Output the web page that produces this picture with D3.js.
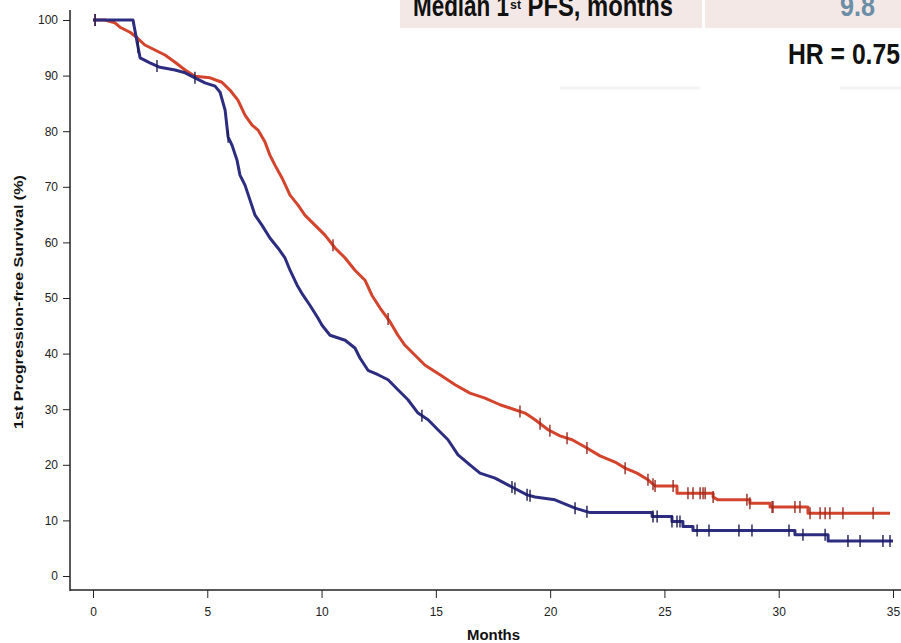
<!DOCTYPE html>
<html>
<head>
<meta charset="utf-8">
<script src="https://cdn.jsdelivr.net/npm/d3@7"></script>
<style>
  body { margin: 0; background: #fff; }
  svg { display: block; }
  .tick text { font-family: "Liberation Sans Narrow", "Arial Narrow", "Liberation Sans", sans-serif; font-size: 12px; fill: #222; }
  .tick line { stroke: #222; }
</style>
</head>
<body>
<svg width="901" height="643"></svg>
<script>
// survival curves, months vs percent
const blueTime = [0, 1.75, 1.93, 2.06, 2.49, 2.93, 3.59, 4.03, 4.46, 4.9, 5.34, 5.56, 5.78, 5.91, 6.08, 6.3, 6.43, 6.65, 6.87, 7.09, 7.39, 7.74, 8.09, 8.4, 8.62, 8.93, 9.19, 9.49, 9.84, 10.02, 10.37, 11.03, 11.46, 11.68, 12.03, 12.47, 12.91, 13.34, 13.78, 14.22, 14.66, 15.09, 15.53, 15.97, 16.49, 16.93, 17.59, 18.33, 18.99, 19.34, 20.21, 21.09, 21.74, 24.46, 24.46, 25.33, 25.33, 25.81, 25.81, 26.25, 26.25, 30.71, 30.71, 32.16, 32.16, 35];
const blueSurv = [100, 100, 96, 93.2, 92.3, 91.5, 91, 90.5, 89.6, 88.7, 88.1, 87, 83.8, 79, 77.5, 74.8, 72.1, 70.3, 67.6, 64.9, 63.1, 60.8, 59, 57.2, 55, 52.3, 50.5, 48.7, 46.4, 45.1, 43.3, 42.4, 41, 39.2, 37, 36.2, 35.3, 33.5, 31.7, 29.3, 28.1, 26.3, 24.5, 21.8, 20, 18.5, 17.6, 16, 14.6, 14.2, 13.7, 12.2, 11.4, 11.4, 10.7, 10.7, 9.8, 9.8, 8.9, 8.9, 8.2, 8.2, 7.4, 7.4, 6.3, 6.3];
const redTime = [0, 0.52, 0.96, 1.18, 1.62, 1.93, 2.27, 2.71, 3.15, 3.59, 4.03, 4.46, 5.12, 5.64, 5.99, 6.34, 6.65, 6.96, 7.22, 7.52, 7.74, 7.96, 8.27, 8.62, 8.97, 9.27, 9.71, 10.15, 10.59, 11.03, 11.46, 11.9, 12.2, 12.56, 13.0, 13.34, 13.65, 14.09, 14.53, 15.18, 15.84, 16.49, 17.15, 17.81, 18.46, 18.9, 19.34, 19.91, 20.43, 20.96, 21.53, 22.18, 22.84, 23.28, 23.8, 24.28, 24.59, 25.55, 25.55, 27.13, 27.13, 27.34, 28.74, 28.74, 29.62, 29.62, 31.28, 31.28, 34.87];
const redSurv = [100, 100, 99.5, 98.7, 97.8, 96.8, 95.5, 94.6, 93.7, 92.4, 91, 89.9, 89.6, 88.8, 87.4, 85.6, 82.9, 81.1, 80.2, 78.1, 75.7, 73.9, 71.6, 68.5, 66.7, 64.9, 63.1, 61.3, 59, 57.2, 55, 53.2, 50.5, 48.2, 45.7, 43.3, 41.5, 39.7, 37.9, 36.2, 34.4, 32.9, 32, 30.8, 29.9, 29.3, 28.1, 26.3, 25.2, 24.5, 23.2, 21.6, 20.5, 19.4, 18.5, 17.3, 16.2, 16.2, 14.9, 14.9, 14.2, 13.7, 13.7, 13.1, 13.1, 12.4, 12.4, 11.3, 11.3];

// censored observations (months)
const blueCensor = [0.09, 1.97, 2.8, 4.46, 5.91, 14.39, 18.33, 18.46, 18.99, 19.12, 21.09, 21.61, 24.5, 24.68, 25.33, 25.55, 25.68, 26.43, 26.95, 28.26, 28.83, 30.45, 31.06, 32.03, 33.03, 33.56, 34.56, 34.87];
const redCensor = [0.09, 10.5, 12.91, 18.68, 19.56, 19.99, 20.74, 21.61, 23.28, 24.28, 24.5, 24.59, 25.38, 26.03, 26.25, 26.56, 26.69, 26.78, 27.13, 28.61, 28.74, 29.71, 29.75, 30.71, 30.93, 31.37, 31.81, 32.03, 32.24, 32.81, 34.13];

const xTicks = [0, 5, 10, 15, 20, 25, 30, 35];
const yTicks = [0, 10, 20, 30, 40, 50, 60, 70, 80, 90, 100];

const svg = d3.select('svg');

const x = d3.scaleLinear().domain([0, 35]).range([93, 893]);
const y = d3.scaleLinear().domain([0, 100]).range([576, 20]);

const narrow = '"Liberation Sans Narrow", "Arial Narrow", "Liberation Sans", sans-serif';

// header table (cropped at top)
svg.append('rect').attr('x', 400).attr('y', 0).attr('width', 302).attr('height', 28).attr('fill', '#f4e8e7');
svg.append('rect').attr('x', 705).attr('y', 0).attr('width', 196).attr('height', 28).attr('fill', '#f4e8e7');

const head = svg.append('text')
   .attr('x', 413).attr('y', 16)
   .style('font-family', narrow)
   .style('font-weight', 'bold')
   .style('font-size', '29px')
   .attr('fill', '#111');
head.append('tspan').attr('textLength', 96).attr('lengthAdjust', 'spacingAndGlyphs').text('Median 1');
head.append('tspan').attr('dx', 1).attr('dy', -7).style('font-size', '12px').attr('textLength', 11).attr('lengthAdjust', 'spacingAndGlyphs').text('st');
head.append('tspan').attr('dy', 7).attr('textLength', 152).attr('lengthAdjust', 'spacingAndGlyphs').text(' PFS, months');

svg.append('text')
   .attr('x', 840).attr('y', 16)
   .style('font-family', narrow)
   .style('font-weight', 'bold')
   .style('font-size', '29px')
   .attr('textLength', 35).attr('lengthAdjust', 'spacingAndGlyphs')
   .attr('fill', '#6b8ea6')
   .text('9.8');

svg.append('text')
   .attr('x', 788).attr('y', 64)
   .style('font-family', narrow)
   .style('font-weight', 'bold')
   .style('font-size', '29px')
   .attr('textLength', 112).attr('lengthAdjust', 'spacingAndGlyphs')
   .attr('fill', '#111')
   .text('HR = 0.75');

// faint leftovers under the header
svg.append('line').attr('x1', 560).attr('x2', 700).attr('y1', 88).attr('y2', 88).attr('stroke', '#f3f3f3').attr('stroke-width', 3);
svg.append('line').attr('x1', 840).attr('x2', 901).attr('y1', 88).attr('y2', 88).attr('stroke', '#f3f3f3').attr('stroke-width', 3);

// axes
const yAxis = svg.append('g')
   .attr('transform', 'translate(70,0)')
   .call(d3.axisLeft(y).tickValues(yTicks).tickSize(7).tickPadding(5));
yAxis.select('.domain').remove();

const xAxis = svg.append('g')
   .attr('transform', 'translate(0,590)')
   .call(d3.axisBottom(x).tickValues(xTicks).tickSize(8).tickPadding(9));
xAxis.select('.domain').remove();

svg.append('line').attr('x1', 70).attr('x2', 70).attr('y1', 10).attr('y2', 591).attr('stroke', '#222').attr('stroke-width', 1.5);
svg.append('line').attr('x1', 70).attr('x2', 901).attr('y1', 590).attr('y2', 590).attr('stroke', '#222').attr('stroke-width', 1.5);

svg.append('text')
   .attr('x', 467).attr('y', 640)
   .style('font-family', narrow)
   .style('font-weight', 'bold')
   .style('font-size', '14px')
   .attr('textLength', 53).attr('lengthAdjust', 'spacingAndGlyphs')
   .attr('fill', '#111')
   .text('Months');

svg.append('text')
   .attr('transform', 'translate(23,429) rotate(-90)')
   .style('font-family', narrow)
   .style('font-weight', 'bold')
   .style('font-size', '13px')
   .attr('textLength', 254).attr('lengthAdjust', 'spacingAndGlyphs')
   .attr('fill', '#111')
   .text('1st Progression-free Survival (%)');

// curves
const series = [
   {time: redTime, surv: redSurv, censor: redCensor, color: '#d4432c', mark: '#9a2a20'},
   {time: blueTime, surv: blueSurv, censor: blueCensor, color: '#2c2d80', mark: '#1c1d55'}
];

const line = d3.line()
   .x(d => x(d[0]))
   .y(d => y(d[1]));

const survAt = (s, t) => {
   let i = d3.bisectRight(s.time, t);
   if (i <= 0) return s.surv[0];
   if (i >= s.time.length) return s.surv[s.surv.length - 1];
   let t0 = s.time[i - 1], t1 = s.time[i];
   let v0 = s.surv[i - 1], v1 = s.surv[i];
   if (t1 === t0) return v1;
   return v0 + (v1 - v0) * (t - t0) / (t1 - t0);
};

series.forEach(s => {
   let pts = s.time.map((t, i) => [t, s.surv[i]]);
   svg.append('path')
      .datum(pts)
      .attr('fill', 'none')
      .attr('stroke', s.color)
      .attr('stroke-width', 3)
      .attr('stroke-linejoin', 'round')
      .attr('d', line);
});

series.forEach(s => {
   svg.append('g')
      .selectAll('line')
      .data(s.censor)
      .join('line')
      .attr('x1', d => x(d)).attr('x2', d => x(d))
      .attr('y1', d => y(survAt(s, d)) - 6)
      .attr('y2', d => y(survAt(s, d)) + 6)
      .attr('stroke', s.mark)
      .attr('stroke-width', 1.4);
});
</script>
</body>
</html>
